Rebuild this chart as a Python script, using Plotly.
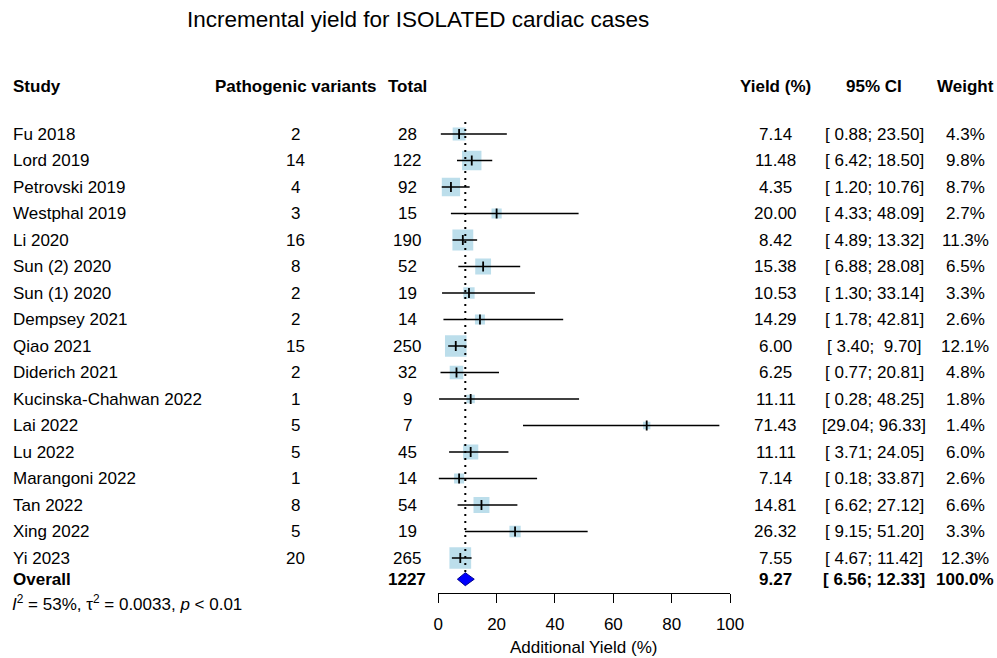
import plotly.graph_objects as go
import math

studies = ["Fu 2018", "Lord 2019", "Petrovski 2019", "Westphal 2019", "Li 2020",
           "Sun (2) 2020", "Sun (1) 2020", "Dempsey 2021", "Qiao 2021", "Diderich 2021",
           "Kucinska-Chahwan 2022", "Lai 2022", "Lu 2022", "Marangoni 2022", "Tan 2022",
           "Xing 2022", "Yi 2023"]
events = [2, 14, 4, 3, 16, 8, 2, 2, 15, 2, 1, 5, 5, 1, 8, 5, 20]
totals = [28, 122, 92, 15, 190, 52, 19, 14, 250, 32, 9, 7, 45, 14, 54, 19, 265]
yields = [7.14, 11.48, 4.35, 20.00, 8.42, 15.38, 10.53, 14.29, 6.00, 6.25,
          11.11, 71.43, 11.11, 7.14, 14.81, 26.32, 7.55]
ci_low = [0.88, 6.42, 1.20, 4.33, 4.89, 6.88, 1.30, 1.78, 3.40, 0.77,
          0.28, 29.04, 3.71, 0.18, 6.62, 9.15, 4.67]
ci_high = [23.50, 18.50, 10.76, 48.09, 13.32, 28.08, 33.14, 42.81, 9.70, 20.81,
           48.25, 96.33, 24.05, 33.87, 27.12, 51.20, 11.42]
weights = [4.3, 9.8, 8.7, 2.7, 11.3, 6.5, 3.3, 2.6, 12.1, 4.8,
           1.8, 1.4, 6.0, 2.6, 6.6, 3.3, 12.3]

overall_total = 1227
overall_est = 9.27
overall_lo = 6.56
overall_hi = 12.33
overall_weight = 100.0
het_text = "<i>I</i><sup>2</sup> = 53%, τ<sup>2</sup> = 0.0033, <i>p</i> < 0.01"
x_ticks = [0, 20, 40, 60, 80, 100]

W, H = 997, 658          # reference picture size
PAGE_W = 1012            # page width that maps onto the 997-px photo
ROW0, ROWH = 134, 26.5
n = len(studies)
rows = list(range(n))
overall_row = 16.8

def px2row(py):
    return (py - ROW0) / ROWH

def fx(px):
    return px / W

def fy(py):
    return 1 - py / H

FONT = "Liberation Sans, Arial, sans-serif"
FS = 17

C_EV, C_TOT, C_Y, C_CI, C_W = 292, 404, 774, 873, 964
X_LEFT = 7

fig = go.Figure()

fig.add_trace(go.Scatter(
    x=yields, y=rows, mode="markers",
    marker=dict(symbol="square", size=[6.2 * math.sqrt(w) for w in weights],
                color="#A0D0E3", line=dict(width=0)),
    hoverinfo="skip", showlegend=False))

fig.add_trace(go.Scatter(
    x=[overall_est, overall_est], y=[px2row(122), overall_row - 0.25],
    mode="lines", line=dict(color="black", width=2, dash="2px,5px"),
    hoverinfo="skip", showlegend=False))

cx, cy = [], []
for r, lo, hi in zip(rows, ci_low, ci_high):
    cx += [lo, hi, None]
    cy += [r, r, None]
fig.add_trace(go.Scatter(
    x=cx, y=cy, mode="lines", line=dict(color="black", width=1.4),
    hoverinfo="skip", showlegend=False))

fig.add_trace(go.Scatter(
    x=yields, y=rows, mode="markers",
    marker=dict(symbol="line-ns", size=7, line=dict(width=1.8, color="black")),
    hoverinfo="skip", showlegend=False))

h = 6.5 / ROWH
fig.add_trace(go.Scatter(
    x=[overall_lo, overall_est, overall_hi, overall_est, overall_lo],
    y=[overall_row, overall_row - h, overall_row, overall_row + h, overall_row],
    mode="lines", fill="toself", fillcolor="#0000FF",
    line=dict(color="#00008B", width=1),
    hoverinfo="skip", showlegend=False))

ann = []

def add(text, x, y, align="left", bold=False, size=FS, yref="y", font=FONT):
    if bold:
        text = "<b>" + text + "</b>"
    ann.append(dict(text=text, x=x, y=y, xref="paper", yref=yref,
                    xanchor=align, yanchor="middle", showarrow=False,
                    borderpad=0,
                    font=dict(family=font, size=size, color="black")))

add("Incremental yield for ISOLATED cardiac cases", fx(415), fy(20), "center",
    size=22.5, yref="paper")

hr = px2row(86)
add("Study", fx(X_LEFT), hr, "left", True)
add("Pathogenic variants", fx(C_EV), hr, "center", True)
add("Total", fx(C_TOT), hr, "center", True)
add("Yield (%)", fx(C_Y), hr, "center", True)
add("95% CI", fx(C_CI), hr, "center", True)
add("Weight", fx(C_W), hr, "center", True)

for r in rows:
    add(studies[r], fx(X_LEFT), r, "left")
    add(str(events[r]), fx(C_EV), r, "center")
    add(str(totals[r]), fx(C_TOT), r, "center")
    add(f"{yields[r]:.2f}", fx(C_Y), r, "center")
    add(f"[{ci_low[r]:5.2f}; {ci_high[r]:5.2f}]", fx(C_CI), r, "center")
    add(f"{weights[r]:.1f}%", fx(C_W), r, "center")

add("Overall", fx(X_LEFT), overall_row, "left", True)
add(str(overall_total), fx(C_TOT), overall_row, "center", True)
add(f"{overall_est:.2f}", fx(C_Y), overall_row, "center", True)
add(f"[{overall_lo:5.2f}; {overall_hi:5.2f}]", fx(C_CI), overall_row, "center", True)
add(f"{overall_weight:.1f}%", fx(C_W), overall_row, "center", True)

add(het_text, fx(X_LEFT - 1), fy(603), "left", yref="paper")
add("Additional Yield (%)", fx(581), fy(647), "center", yref="paper")

fig.update_layout(
    width=PAGE_W, height=H,
    margin=dict(l=0, r=0, t=0, b=0),
    paper_bgcolor="white", plot_bgcolor="white",
    annotations=ann,
    xaxis=dict(domain=[fx(435), fx(728)], range=[0, 100], anchor="free",
               position=fy(593), showline=True, linecolor="black", linewidth=1,
               ticks="outside", ticklen=9, tickwidth=1, tickcolor="black",
               ticklabelstandoff=7,
               tickvals=x_ticks, showgrid=False, zeroline=False,
               tickfont=dict(family=FONT, size=FS, color="black")),
    yaxis=dict(range=[px2row(H), px2row(0)], visible=False, domain=[0, 1]),
)

fig.write_html(
    "out.html",
    config={"displayModeBar": False},
    post_script=("document.documentElement.style.overflow='hidden';"
                 "document.documentElement.style.margin='0';"
                 "document.body.style.margin='0';"
                 "document.body.style.overflow='hidden';"))
